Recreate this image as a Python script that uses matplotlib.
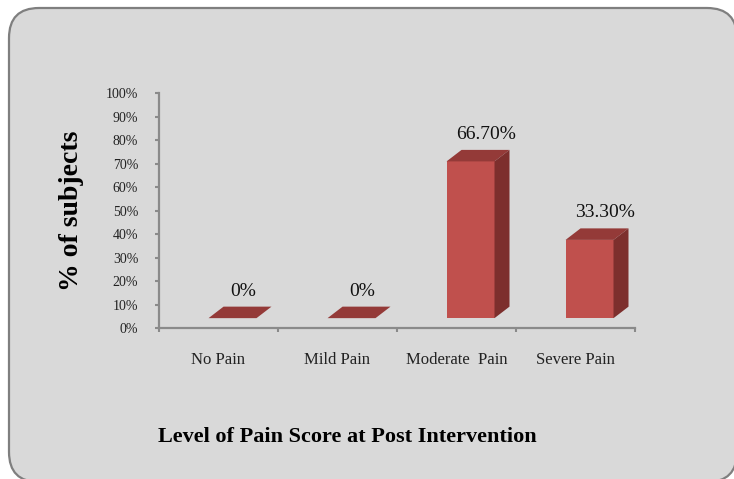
import numpy as np
import matplotlib
matplotlib.use("Agg")
import matplotlib.pyplot as plt
from matplotlib.patches import FancyBboxPatch, Polygon

categories = ["No Pain", "Mild Pain", "Moderate  Pain", "Severe Pain"]
values = [0.0, 0.0, 66.7, 33.3]
value_labels = ["0%", "0%", "66.70%", "33.30%"]
y_ticks = list(range(0, 101, 10))

plt.rcParams["font.family"] = ["Liberation Serif", "DejaVu Serif"]

front_color = "#c0504d"
side_color = "#7d2f2d"
top_color = "#943a38"
axis_color = "#8a8a8a"

fig = plt.figure(figsize=(7.34, 4.79), dpi=100)

# rounded grey panel behind the chart
panel = FancyBboxPatch(
    (0.09, -0.03),
    7.28,
    4.74,
    boxstyle="round,pad=0,rounding_size=0.30",
    transform=fig.dpi_scale_trans,
    facecolor="#d9d9d9",
    edgecolor="#7f7f7f",
    linewidth=1.6,
    zorder=-10,
)
fig.patches.append(panel)

ax = fig.add_axes([0.2166, 0.3152, 0.6485, 0.4906])
ax.set_facecolor("none")

x = np.arange(len(categories))
bar_off = 0.118      # front face shift from category centre
bar_w = 0.403
base = 4.2           # floor lifted by 3d depth
dx, dy = 0.126, 4.9  # depth offset

ax.bar(x + bar_off, values, width=bar_w, bottom=base, color=front_color,
       zorder=3)

for xi, v in zip(x, values):
    l = xi + bar_off - bar_w / 2
    r = xi + bar_off + bar_w / 2
    t = base + v
    top = Polygon([(l, t), (r, t), (r + dx, t + dy), (l + dx, t + dy)],
                  closed=True, facecolor=top_color, edgecolor="none",
                  zorder=4)
    ax.add_patch(top)
    if v > 0:
        side = Polygon([(r, base), (r + dx, base + dy), (r + dx, t + dy),
                        (r, t)], closed=True, facecolor=side_color,
                       edgecolor="none", zorder=4)
        ax.add_patch(side)

for xi, v, lab in zip(x, values, value_labels):
    off = 0.25 if v > 0 else 0.21
    ax.text(xi + off, base + v + dy + 3.0, lab, ha="center", va="bottom",
            fontsize=14, color="#111111")

ax.set_xlim(-0.5, len(categories) - 0.5)
ax.set_ylim(0, 100)

ax.set_yticks(y_ticks)
ax.set_yticklabels([f"{t}%" for t in y_ticks], fontsize=10, color="#222222")
ax.tick_params(axis="y", length=3, width=1.5, color=axis_color, pad=12)

ax.set_xticks(x)
ax.set_xticklabels(categories, fontsize=12, color="#222222")
ax.set_xticks(np.arange(-0.5, len(categories)), minor=True)
ax.tick_params(axis="x", which="major", length=0, pad=17)
ax.tick_params(axis="x", which="minor", length=3, width=1.5,
               color=axis_color)

for side in ["top", "right"]:
    ax.spines[side].set_visible(False)
for side in ["left", "bottom"]:
    ax.spines[side].set_color(axis_color)
    ax.spines[side].set_linewidth(1.6)

fig.text(72 / 734, 1 - 211 / 479, "% of subjects", rotation=90,
         ha="center", va="center", fontsize=20, fontweight="bold")
fig.text(347 / 734, 1 - 437 / 479, "Level of Pain Score at Post Intervention",
         ha="center", va="center", fontsize=16, fontweight="bold")

fig.savefig("out.png", dpi=100)
